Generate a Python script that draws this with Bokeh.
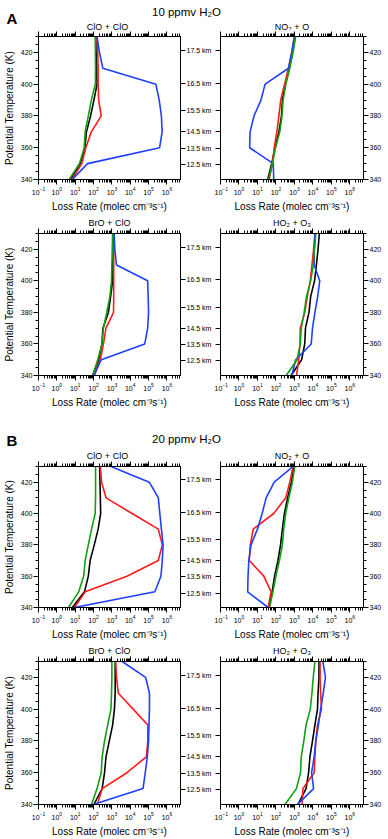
from bokeh.plotting import figure
from bokeh.models import Range1d, LinearAxis, LogAxis, FixedTicker, ColumnDataSource
from bokeh.layouts import column, row
from bokeh.embed import file_html
from bokeh.resources import INLINE
from bokeh.core.properties import value

FONT = "Liberation Sans"

# ---------------- data ----------------
theta = [340, 350, 360, 370, 380, 390, 400, 410, 420, 430]

km_labels = ["12.5 km", "13.5 km", "14.5 km", "15.5 km", "16.5 km", "17.5 km"]
km_theta = [349.2, 359.6, 370.0, 383.4, 400.6, 421.4]

theta_ticks = [340, 360, 380, 400, 420]
decades = [0.1, 1, 10, 100, 1e3, 1e4, 1e5, 1e6]

# 10 ppmv H2O
a_clo_black = [5.5, 19, 34, 41, 69, 105, 155, 148, 138, 132]
a_clo_red = [6.6, 23, 38, 76, 263, 190, 178, 178, 170, 155]
a_clo_green = [4.7, 17, 31, 35, 52, 76, 126, 129, 126, 123]
a_clo_blue = [6.9, 47, 4.0e5, 5.5e5, 5.0e5, 3.8e5, 2.5e5, 320, 210, 155]

a_no2_black = [36, 59, 89, 145, 200, 224, 324, 525, 776, 1096]
a_no2_red = [43, 65, 81, 112, 145, 182, 295, 480, 720, 1000]
a_no2_green = [40, 65, 95, 162, 214, 245, 347, 562, 851, 1175]
a_no2_blue = [76, 72, 3.8, 4.0, 6.5, 15.5, 26, 480, 720, 1000]

a_bro_black = [89, 191, 288, 324, 646, 851, 1096, 1120, 1150, 1175]
a_bro_red = [112, 234, 347, 479, 1230, 1260, 1260, 1260, 1290, 1320]
a_bro_green = [89, 170, 288, 347, 525, 776, 955, 1000, 1047, 1096]
a_bro_blue = [105, 263, 6.2e4, 8.9e4, 1.0e5, 9.5e4, 8.9e4, 1780, 1450, 1320]

a_ho2_black = [661, 2455, 3631, 3981, 6166, 7586, 12300, 15490, 19050, 22400]
a_ho2_red = [1318, 1698, 1995, 2089, 3631, 5012, 7244, 8913, 10960, 13180]
a_ho2_green = [363, 1380, 2089, 2344, 3388, 4467, 7586, 10470, 12300, 14450]
a_ho2_blue = [724, 1175, 8128, 9550, 12880, 18200, 23440, 11750, 11750, 12880]

# 20 ppmv H2O
b_clo_black = [7.0, 32, 52, 65, 110, 178, 245, 234, 224, 214]
b_clo_red = [9.1, 35, 6600, 3.4e5, 5.6e5, 3.4e5, 12600, 480, 275, 234]
b_clo_green = [4.3, 15.5, 29, 35, 52, 78, 123, 129, 129, 129]
b_clo_blue = [9.1, 2.2e5, 4.7e5, 5.6e5, 6.2e5, 5.0e5, 4.1e5, 3.4e5, 1.1e5, 890]

b_no2_black = [41, 62, 85, 129, 178, 224, 288, 427, 692, 955]
b_no2_red = [38, 55, 22, 3.6, 4.1, 5.9, 76, 339, 562, 851]
b_no2_green = [45, 69, 100, 155, 224, 263, 339, 501, 776, 1047]
b_no2_blue = [38, 2.95, 3.1, 3.4, 4.5, 10, 18, 29.5, 81, 851]

b_bro_black = [105, 295, 398, 479, 724, 1096, 1380, 1514, 1514, 1514]
b_bro_red = [162, 295, 6600, 7.6e4, 9.1e4, 9.1e4, 1.45e4, 2240, 1780, 1620]
b_bro_green = [78, 155, 263, 295, 398, 589, 891, 955, 1000, 1000]
b_bro_blue = [95, 5.0e4, 6.6e4, 8.5e4, 1.0e5, 1.05e5, 1.12e5, 1.12e5, 6.9e4, 3630]

b_ho2_black = [1549, 4266, 5888, 6918, 9550, 12880, 17780, 19050, 21380, 21380]
b_ho2_red = [2630, 2884, 11750, 12880, 14450, 17780, 29510, 26300, 24550, 24550]
b_ho2_green = [309, 1288, 2138, 2344, 3236, 4266, 7244, 8913, 10470, 12880]
b_ho2_blue = [1445, 10960, 8511, 11750, 14450, 19950, 26300, 36310, 47860, 34670]

COLORS = {"black": "#000000", "red": "#ff1a1a", "blue": "#1f3fff", "green": "#10a010"}

# ---------------- helpers ----------------
minor_log = [m * d for d in decades for m in range(2, 10) if m * d < 5.5e6]
theta_minor = list(range(340, 431, 5))

LEFT = (33, 148, 33)   # border left, frame width, border right
RIGHT = (6, 143, 25)
FRAME_H = 147


def style_axis(ax):
    ax.axis_line_color = "black"
    ax.axis_line_width = 1
    ax.major_tick_in = 0
    ax.major_tick_out = 5
    ax.minor_tick_in = 0
    ax.minor_tick_out = 3
    ax.major_tick_line_color = "black"
    ax.minor_tick_line_color = "black"
    ax.major_label_text_font = FONT
    ax.major_label_text_font_size = "7px"
    ax.major_label_text_color = "black"
    ax.major_label_standoff = 1
    ax.axis_label_text_font = FONT
    ax.axis_label_text_font_style = "normal"
    ax.axis_label_text_font_size = "10px"
    ax.axis_label_text_color = "black"
    ax.axis_label_standoff = 3


def hide_labels(ax):
    ax.major_label_text_font_size = "1px"
    ax.major_label_text_alpha = 0
    ax.major_label_standoff = 0


def panel(title, series, side, top, bottom):
    bl, fw, br = LEFT if side == "left" else RIGHT
    kw = dict(width=bl + fw + br, height=top + FRAME_H + bottom,
              x_axis_type="log", y_axis_type=None,
              x_range=Range1d(0.1, 5.5e6), y_range=Range1d(340, 430),
              output_backend="svg", toolbar_location=None,
              min_border_left=bl, min_border_right=br,
              min_border_top=top, min_border_bottom=bottom)
    kw["title"] = title
    p = figure(**kw)
    p.grid.visible = False
    p.outline_line_color = "black"
    p.outline_line_width = 1
    if title is not None:
        p.title.text_font = FONT
        p.title.text_font_size = "9px"
        p.title.text_font_style = "normal"
        p.title.text_color = "black"
        p.title.align = "center"
        p.title.standoff = 1

    bx = p.xaxis[0]
    bx.ticker = FixedTicker(ticks=decades, minor_ticks=minor_log)
    bx.axis_label = "Loss Rate (molec cm\u207b\u00b3s\u207b\u00b9)"
    style_axis(bx)
    bx.major_label_standoff = 2
    tx = LogAxis(ticker=FixedTicker(ticks=decades, minor_ticks=minor_log))
    style_axis(tx)
    hide_labels(tx)
    p.add_layout(tx, "above")

    th_ax = LinearAxis(ticker=FixedTicker(ticks=theta_ticks, minor_ticks=theta_minor))
    style_axis(th_ax)
    km_ax = LinearAxis(ticker=FixedTicker(ticks=km_theta),
                       major_label_overrides={t: l for t, l in zip(km_theta, km_labels)})
    style_axis(km_ax)
    if side == "left":
        th_ax.axis_label = "Potential Temperature (K)"
        p.add_layout(th_ax, "left")
        p.add_layout(km_ax, "right")
    else:
        hide_labels(km_ax)
        p.add_layout(km_ax, "left")
        p.add_layout(th_ax, "right")

    for name in ["black", "red", "blue", "green"]:
        src = ColumnDataSource(dict(x=series[name], y=theta))
        p.line("x", "y", source=src, line_color=COLORS[name], line_width=1.6)
    return p


def header(letter, text, titles, h, base, pbase, tbase):
    f = figure(width=388, height=h, x_range=Range1d(0, 388), y_range=Range1d(0, h),
               x_axis_type=None, y_axis_type=None, output_backend="svg",
               toolbar_location=None, min_border=0, outline_line_color=None, title=None)
    f.grid.visible = False
    f.text(x=[6], y=[base], text=[letter], text_font=value(FONT), text_font_style="bold",
           text_font_size="15px", text_baseline="alphabetic", text_color="black")
    f.text(x=[186], y=[pbase], text=[text], text_font=value(FONT),
           text_font_size="11.5px", text_align="center", text_baseline="alphabetic",
           text_color="black")
    lc = LEFT[0] + LEFT[1] / 2
    rc = LEFT[0] + LEFT[1] + LEFT[2] + RIGHT[0] + RIGHT[1] / 2
    f.text(x=[lc, rc], y=[tbase, tbase], text=titles, text_font=value(FONT),
           text_font_size="9px", text_align="center", text_baseline="alphabetic",
           text_color="black")
    return f


def S(k, r, g, b):
    return {"black": k, "red": r, "green": g, "blue": b}


hA = header("A", "10 ppmv H\u2082O", ["ClO + ClO", "NO\u2082 + O"], 30, 12, 19, 4)
p1 = panel(None, S(a_clo_black, a_clo_red, a_clo_green, a_clo_blue), "left", 6, 31)
p2 = panel(None, S(a_no2_black, a_no2_red, a_no2_green, a_no2_blue), "right", 6, 31)
p3 = panel("BrO + ClO", S(a_bro_black, a_bro_red, a_bro_green, a_bro_blue), "left", 19, 30)
p4 = panel("HO\u2082 + O\u2083", S(a_ho2_black, a_ho2_red, a_ho2_green, a_ho2_blue), "right", 19, 30)

hB = header("B", "20 ppmv H\u2082O", ["ClO + ClO", "NO\u2082 + O"], 50, 20, 22, 5)
p5 = panel(None, S(b_clo_black, b_clo_red, b_clo_green, b_clo_blue), "left", 6, 29)
p6 = panel(None, S(b_no2_black, b_no2_red, b_no2_green, b_no2_blue), "right", 6, 29)
p7 = panel("BrO + ClO", S(b_bro_black, b_bro_red, b_bro_green, b_bro_blue), "left", 19, 31)
p8 = panel("HO\u2082 + O\u2083", S(b_ho2_black, b_ho2_red, b_ho2_green, b_ho2_blue), "right", 19, 31)

layout = column(hA, row(p1, p2), row(p3, p4), hB, row(p5, p6), row(p7, p8))

open("out.html", "w").write(file_html(layout, INLINE))
